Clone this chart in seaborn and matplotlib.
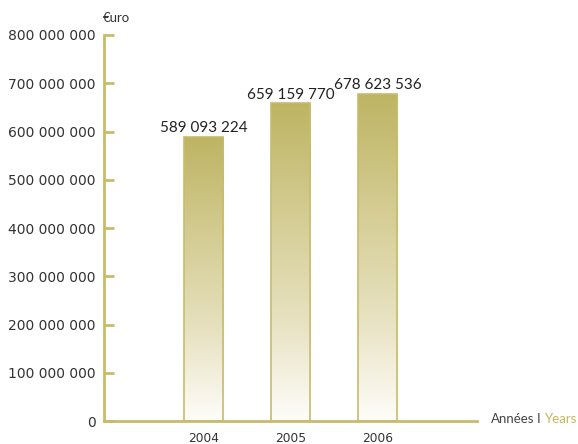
import numpy as np
import pandas as pd
import matplotlib
matplotlib.use("Agg")
import matplotlib.pyplot as plt
import seaborn as sns
from matplotlib.colors import LinearSegmentedColormap

years = ["2004", "2005", "2006"]
values = [589093224, 659159770, 678623536]
yticks = [0, 100000000, 200000000, 300000000, 400000000, 500000000, 600000000, 700000000, 800000000]

sns.set_style("white")
plt.rcParams['font.family'] = ['DejaVu Sans']

gold = "#C8BC6C"
fig = plt.figure(figsize=(5.78, 4.44), dpi=100)
ax = fig.add_axes([104/578, 1-421/444, (477-104)/578, (421-35)/444])

df = pd.DataFrame({"year": years, "value": values})
sns.barplot(data=df, x="year", y="value", color=gold, width=0.45, ax=ax, saturation=1)

cmap = LinearSegmentedColormap.from_list("g", ["#FEFDF9", "#E6E0BE", "#D3CB90", "#BDB463"])
grad = np.linspace(0, 1, 256).reshape(-1, 1)
for p in ax.patches:
    x0, y0 = p.get_x(), p.get_y()
    w, h = p.get_width(), p.get_height()
    im = ax.imshow(grad, extent=[x0, x0 + w, y0, y0 + h], origin="lower", aspect="auto",
                   cmap=cmap, zorder=2)
    im.set_clip_path(p)
    p.set_facecolor("none")
    p.set_edgecolor(gold)
    p.set_linewidth(1.2)
    p.set_zorder(3)
    ax.text(x0 + w/2, y0 + h + 9e6, f"{h:,.0f}".replace(",", " "), ha="center", va="baseline",
            fontsize=11, color="#222222", family=['Lato', 'DejaVu Sans'])

ax.set_xlim(-1.144, 3.138)
ax.set_ylim(0, 800000000)
ax.set_yticks(yticks)
ax.set_yticklabels([f"{t:,}".replace(",", " ") for t in yticks], fontsize=10, color="#333333")
ax.tick_params(axis="y", direction="in", length=7, width=2, color=gold, pad=6, left=True)
ax.tick_params(axis="x", length=0, pad=8, labelsize=8.8, labelcolor="#333333")
ax.set_xlabel("")
ax.set_ylabel("")
for s in ["top", "right"]:
    ax.spines[s].set_visible(False)
ax.spines["left"].set_color(gold)
ax.spines["left"].set_linewidth(2)
ax.spines["bottom"].set_color(gold)
ax.spines["bottom"].set_linewidth(2)
ax.set_axisbelow(False)

fig.text(103/578, 1-18/444, "€uro", fontsize=9.5, color="#333333", va="center", ha="left",
         family=['Lato', 'DejaVu Sans'])
fig.text(491/578, 1-419/444, "Années", fontsize=9.5, color="#444444", va="center", ha="left",
         family=['Lato', 'DejaVu Sans'])
fig.text(538.5/578, 1-419/444, "I", fontsize=9.5, color="#444444", va="center", ha="center",
         family=['Lato', 'DejaVu Sans'])
fig.text(577/578, 1-419/444, "Years", fontsize=9.5, color="#C2B65E", va="center", ha="right",
         family=['Lato', 'DejaVu Sans'])

fig.savefig("out.png", dpi=100)
